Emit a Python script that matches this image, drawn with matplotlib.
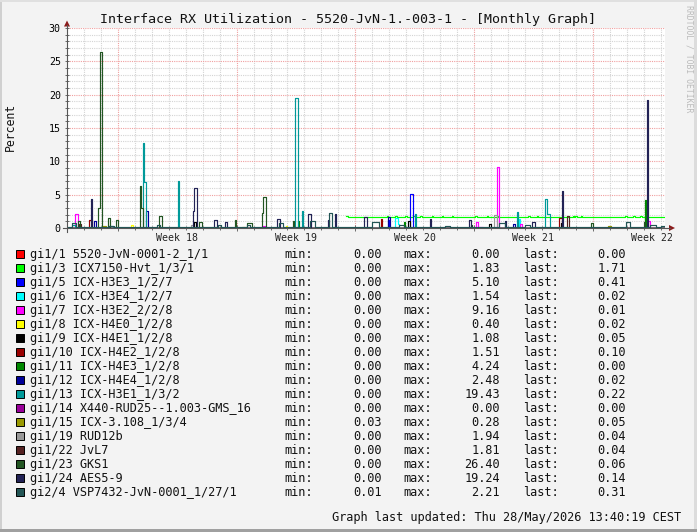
import matplotlib
matplotlib.use("Agg")
import matplotlib.pyplot as plt
from matplotlib.patches import Rectangle, Polygon
from matplotlib.lines import Line2D

MONO = "DejaVu Sans Mono"
W, H = 697, 532

# time axis in days from the left edge of the graph
T_END = 35.26
week_starts = [3, 10, 17, 24, 31]
week_labels = ["Week 18", "Week 19", "Week 20", "Week 21", "Week 22"]
nan = float("nan")

labels = ["gi1/1 5520-JvN-0001-2_1/1", "gi1/3 ICX7150-Hvt_1/3/1", "gi1/5 ICX-H3E3_1/2/7",
          "gi1/6 ICX-H3E4_1/2/7", "gi1/7 ICX-H3E2_2/2/8", "gi1/8 ICX-H4E0_1/2/8",
          "gi1/9 ICX-H4E1_1/2/8", "gi1/10 ICX-H4E2_1/2/8", "gi1/11 ICX-H4E3_1/2/8",
          "gi1/12 ICX-H4E4_1/2/8", "gi1/13 ICX-H3E1_1/3/2", "gi1/14 X440-RUD25--1.003-GMS_16",
          "gi1/15 ICX-3.108_1/3/4", "gi1/19 RUD12b", "gi1/22 JvL7", "gi1/23 GKS1",
          "gi1/24 AES5-9", "gi2/4 VSP7432-JvN-0001_1/27/1"]
colors = ["#FF0000", "#00FF00", "#0000FF", "#00FFFF", "#FF00FF", "#FFFF00", "#000000",
          "#990000", "#008800", "#000099", "#009999", "#990099", "#999900", "#999999",
          "#552222", "#225522", "#222255", "#225555"]
mins = ["0.00", "0.00", "0.00", "0.00", "0.00", "0.00", "0.00", "0.00", "0.00",
        "0.00", "0.00", "0.00", "0.03", "0.00", "0.00", "0.00", "0.00", "0.01"]
maxs = ["0.00", "1.83", "5.10", "1.54", "9.16", "0.40", "1.08", "1.51", "4.24",
        "2.48", "19.43", "0.00", "0.28", "1.94", "1.81", "26.40", "19.24", "2.21"]
lasts = ["0.00", "1.71", "0.41", "0.02", "0.01", "0.02", "0.05", "0.10", "0.00",
         "0.02", "0.22", "0.00", "0.05", "0.04", "0.04", "0.06", "0.14", "0.31"]

# base level of each trace and its bursts as (start day, end day, percent)
base_levels = [0.0, 1.70, 0.0, 0.0, 0.01, 0.0, 0.02, 0.0, 0.0,
               0.02, 0.05, 0.0, 0.03, 0.02, 0.02, 0.05, 0.03, 0.15]
seg_gi1_1 = []
seg_gi1_3 = [(0, 16.47, nan), (16.47, 16.55, 1.83), (18.85, 18.95, 1.83), (19.34, 19.44, 1.83),
             (19.93, 20.03, 1.83), (20.42, 20.52, 1.83), (20.81, 20.91, 1.83), (21.5, 21.6, 1.83),
             (22.09, 22.19, 1.83), (22.68, 22.78, 1.83), (24.06, 24.16, 1.83), (24.75, 24.85, 1.83),
             (25.34, 25.44, 1.83), (27.2, 27.32, 1.83), (27.69, 27.79, 1.83), (29.82, 29.92, 1.83),
             (29.98, 30.1, 1.83), (30.29, 30.39, 1.83), (32.9, 33.0, 1.83), (33.39, 33.49, 1.83),
             (33.78, 33.88, 1.83)]
seg_gi1_5 = [(18.9, 19.0, 1.2), (20.22, 20.38, 5.10)]
seg_gi1_6 = [(19.34, 19.52, 1.54), (19.52, 19.6, 0.6), (26.63, 26.72, 1.3)]
seg_gi1_7 = [(0.47, 0.63, 2.05), (11.56, 11.68, 0.35), (24.1, 24.24, 0.95), (24.24, 24.5, 0.2),
             (25.34, 25.49, 9.16), (26.7, 26.8, 0.6), (34.28, 34.36, 1.0)]
seg_gi1_8 = [(3.8, 3.9, 0.4), (12.9, 13.0, 0.3)]
seg_gi1_9 = [(7.5, 7.6, 0.9), (20.1, 20.2, 1.08), (24.9, 25.0, 0.6), (29.1, 29.2, 0.8)]
seg_gi1_10 = [(1.32, 1.46, 1.2), (18.5, 18.6, 1.3), (29.02, 29.16, 1.51)]
seg_gi1_11 = [(13.6, 13.7, 1.0), (19.85, 19.95, 0.9), (34.06, 34.14, 4.24)]
seg_gi1_12 = [(1.6, 1.7, 1.0), (4.66, 4.76, 2.48), (18.95, 19.05, 1.7), (26.3, 26.4, 0.6)]
seg_gi1_13 = [(0.3, 0.5, 0.4), (2.4, 2.7, 0.3), (4.47, 4.52, 12.7), (4.52, 4.66, 6.85),
              (6.56, 6.63, 7.0), (13.44, 13.6, 19.43), (13.86, 13.92, 2.55), (20.5, 20.6, 2.05),
              (26.52, 26.62, 2.45), (28.18, 28.32, 4.3), (28.32, 28.5, 2.1)]
seg_gi1_14 = []
seg_gi1_15 = [(2.1, 2.3, 0.28), (10.3, 10.5, 0.2), (31.9, 32.05, 0.28)]
seg_gi1_19 = [(7.3, 7.4, 0.5), (25.2, 25.34, 1.94)]
seg_gi1_22 = [(0.7, 0.8, 0.6), (29.46, 29.6, 1.81)]
seg_gi1_23 = [(0.66, 0.76, 1.05), (1.85, 1.93, 3.0), (1.93, 2.05, 26.4), (2.44, 2.54, 1.55),
              (2.89, 2.99, 1.2), (4.28, 4.36, 6.3), (4.36, 4.47, 3.0), (5.42, 5.62, 1.8),
              (7.8, 7.95, 0.9), (9.9, 9.97, 1.25), (10.6, 10.9, 0.7), (11.5, 11.57, 2.2),
              (11.57, 11.73, 4.7), (13.3, 13.4, 1.0), (23.8, 23.9, 0.5), (30.9, 31.0, 0.8),
              (34.0, 34.06, 0.9)]
seg_gi1_24 = [(1.42, 1.50, 4.35), (7.40, 7.47, 2.6), (7.47, 7.65, 5.95), (8.67, 8.86, 1.2),
              (9.32, 9.45, 0.95), (12.36, 12.56, 1.3), (14.23, 14.37, 2.1), (15.4, 15.47, 1.2),
              (15.8, 15.88, 2.1), (17.5, 17.67, 1.6), (21.4, 21.47, 1.3), (23.72, 23.84, 1.2),
              (25.8, 25.9, 1.0), (27.4, 27.6, 0.9), (29.2, 29.26, 5.55), (34.18, 34.24, 19.24)]
seg_gi2_4 = [(0.3, 0.55, 0.7), (2.5, 2.8, 0.3), (5.3, 5.5, 0.4), (8.9, 9.1, 0.4), (10.6, 10.8, 0.5),
             (12.5, 12.75, 0.7), (14.35, 14.65, 1.0), (15.47, 15.6, 2.21), (18.0, 18.4, 0.9),
             (19.6, 19.9, 0.5), (22.3, 22.6, 0.3), (25.45, 25.8, 0.8), (27.0, 27.3, 0.5),
             (32.95, 33.2, 0.95), (34.4, 34.7, 0.4), (35.0, 35.26, 0.31)]
segments = [seg_gi1_1, seg_gi1_3, seg_gi1_5, seg_gi1_6, seg_gi1_7, seg_gi1_8, seg_gi1_9,
            seg_gi1_10, seg_gi1_11, seg_gi1_12, seg_gi1_13, seg_gi1_14, seg_gi1_15,
            seg_gi1_19, seg_gi1_22, seg_gi1_23, seg_gi1_24, seg_gi2_4]


def step_xy(segs, base):
    xs, ys = [0.0], [base]
    for s, e, h in sorted(segs):
        if xs[-1] == s:
            ys[-1] = h
        else:
            xs.append(s)
            ys.append(h)
        xs.append(e)
        ys.append(base)
    xs.append(T_END)
    ys.append(ys[-1])
    return xs, ys


fig = plt.figure(figsize=(W / 100, H / 100), dpi=100)
fig.patch.set_facecolor("#F3F3F3")

# graph area: 598 x 200 px, left edge x=67, bottom y=228
ax = fig.add_axes([67 / W, (H - 228) / H, 598 / W, 200 / H])
ax.set_facecolor("white")
ax.set_xlim(0, T_END)
ax.set_ylim(0, 30)

for segs, base, col in zip(segments, base_levels, colors):
    xs, ys = step_xy(segs, base)
    ax.step(xs, ys, where="post", color=col, lw=0.85, zorder=3)

ax.set_xticks(week_starts)
ax.set_xticks(range(0, 36), minor=True)
ax.set_xticklabels([])
ax.set_yticks(range(0, 31, 5))
ax.set_yticks(range(0, 31), minor=True)
ax.set_yticklabels([str(v) for v in range(0, 31, 5)], fontfamily=MONO, fontsize=7.2)
ax.grid(which="major", color="#F0A0A0", linestyle=(0, (1, 1)), lw=0.8)
ax.grid(which="minor", color="#D4D4D4", linestyle=(0, (1, 1)), lw=0.8)
ax.set_axisbelow(True)
ax.tick_params(which="both", direction="inout", length=3, width=0.6, color="#555555", pad=3)
ax.tick_params(axis="x", which="major", length=4)
for sp in ax.spines.values():
    sp.set_visible(False)

for ws, wl in zip(week_starts, week_labels):
    ax.text(ws + 3.5, -0.05, wl, transform=ax.get_xaxis_transform(), ha="center", va="center",
            fontfamily=MONO, fontsize=7.1, color="#222222")

# overlay in pixel coordinates for frame, axis arrows and legend
ov = fig.add_axes([0, 0, 1, 1], zorder=5)
ov.set_xlim(0, W)
ov.set_ylim(H, 0)
ov.axis("off")
ov.patch.set_alpha(0)

ov.add_patch(Rectangle((0, 0), 2, H, color="#D0D0D0", lw=0))
ov.add_patch(Rectangle((0, 0), W, 2, color="#E0E0E0", lw=0))
ov.add_patch(Rectangle((W - 3, 0), 3, H, color="#DCDCDC", lw=0))
ov.add_patch(Rectangle((0, H - 3), W, 3, color="#A0A0A0", lw=0))

ov.add_line(Line2D([63, 670], [228, 228], color="#555555", lw=0.8))
ov.add_line(Line2D([67, 67], [232, 25], color="#555555", lw=0.8))
ov.add_patch(Polygon([[64, 26.5], [70, 26.5], [67, 20.5]], closed=True, color="#8B1A1A", lw=0))
ov.add_patch(Polygon([[669, 225], [669, 231], [675, 228]], closed=True, color="#8B1A1A", lw=0))

ov.text(348, 19.5, "Interface RX Utilization - 5520-JvN-1.-003-1 - [Monthly Graph]",
        ha="center", va="center", fontfamily=MONO, fontsize=9.6, color="#111111")
ov.text(10, 127, "Percent", rotation=90, ha="center", va="center",
        fontfamily=MONO, fontsize=8.3, color="#111111")
ov.text(689, 5, "RRDTOOL / TOBI OETIKER", rotation=270, ha="center", va="top",
        fontfamily=MONO, fontsize=5.9, color="#BBBBBB")

for i in range(len(labels)):
    y = 254.3 + 14 * i
    ov.add_patch(Rectangle((15.5, y - 4), 8, 8, facecolor=colors[i], edgecolor="black", lw=0.7))
    kw = dict(va="center", fontfamily=MONO, fontsize=8.6, color="#111111")
    ov.text(30, y, labels[i], ha="left", **kw)
    ov.text(284, y, "min:", ha="left", **kw)
    ov.text(382, y, mins[i], ha="right", **kw)
    ov.text(403, y, "max:", ha="left", **kw)
    ov.text(500, y, maxs[i], ha="right", **kw)
    ov.text(523, y, "last:", ha="left", **kw)
    ov.text(626, y, lasts[i], ha="right", **kw)

ov.text(681, 518, "Graph last updated: Thu 28/May/2026 13:40:19 CEST", ha="right", va="center",
        fontfamily=MONO, fontsize=8.6, color="#111111")

fig.savefig("out.png", dpi=100, facecolor=fig.get_facecolor())
